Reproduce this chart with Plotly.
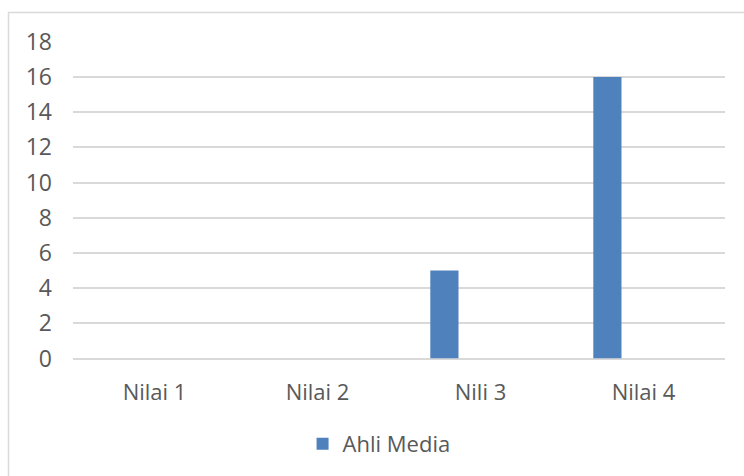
import plotly.graph_objects as go

categories = ["Nilai 1", "Nilai 2", "Nili 3", "Nilai 4"]
ahli_media = [0, 0, 5, 16]
y_ticks = [0, 2, 4, 6, 8, 10, 12, 14, 16, 18]

W, H = 744, 476
TXT = "#595959"
FONT = "Open Sans"

fig = go.Figure()
fig.add_trace(go.Bar(
    x=categories, y=ahli_media, name="Ahli Media",
    marker=dict(color="#4F81BD", line=dict(width=0)),
    width=0.173, offset=-0.308,
))

fig.update_layout(
    width=W, height=H,
    margin=dict(l=0, r=0, t=0, b=0, autoexpand=False),
    paper_bgcolor="white", plot_bgcolor="white",
    font=dict(family=FONT, size=22, color=TXT),
    showlegend=True,
    legend=dict(orientation="h", x=0.5095, xanchor="center", y=1 - 444 / H, yanchor="middle",
                font=dict(family=FONT, size=22, color=TXT), bgcolor="rgba(0,0,0,0)"),
    xaxis=dict(domain=[73 / W, 725 / W], range=[-0.5, 3.5], showgrid=False,
               showline=False, zeroline=False, ticks="", ticklabelstandoff=18,
               tickfont=dict(family=FONT, size=22, color=TXT)),
    yaxis=dict(domain=[1 - 358.5 / H, 1 - 41.7 / H], range=[0, 18], tickvals=y_ticks,
               showgrid=True, gridcolor="#D9D9D9", gridwidth=1.5, zeroline=True,
               zerolinecolor="#D9D9D9", zerolinewidth=1.5, showline=False, ticks="",
               ticklabelstandoff=20, tickfont=dict(family=FONT, size=23, color=TXT)),
    shapes=[dict(type="rect", xref="paper", yref="paper",
                 x0=8.5 / W, x1=1.05, y0=-0.05, y1=1 - 12.5 / H,
                 line=dict(color="#D9D9D9", width=1.5), fillcolor="rgba(0,0,0,0)", layer="below")],
)

fig.write_html("out.html")
